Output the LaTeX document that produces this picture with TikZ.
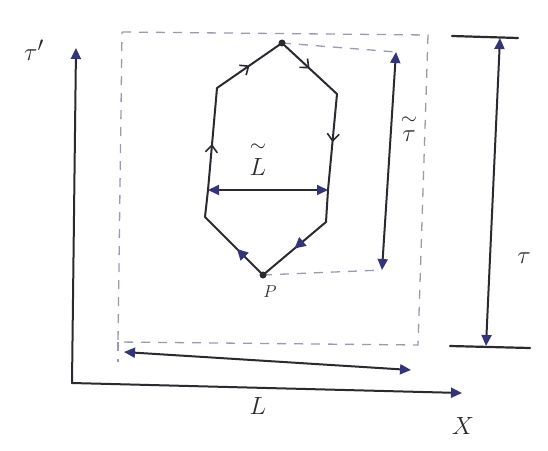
\documentclass[tikz,border=0pt]{standalone}
\usepackage{xcolor}
\usepackage{amsmath}
\definecolor{cInk}{HTML}{2A2A30}
\definecolor{cTip}{HTML}{34347C}
\definecolor{cDash}{HTML}{9A9AB0}
\usetikzlibrary{arrows.meta,decorations.markings}
\tikzset{
  ink/.style={line width=2pt,draw=cInk,line cap=round,line join=round},
  axis-line/.style={ink,-{Triangle[length=11pt,width=10pt,color=cTip]}},
  dim-line/.style={ink,{Triangle[length=11pt,width=10pt,color=cTip]}-{Triangle[length=11pt,width=10pt,color=cTip]}},
  box-dashed/.style={draw=cDash,line width=1.3pt,dash pattern=on 9pt off 8pt},
  bar-line/.style={ink,line width=2.2pt},
  % Pfeil in der Mitte einer Kante: offen (Haken) oder gefuellt
  edge-open/.style={ink,postaction={decorate},decoration={markings,
    mark=at position #1 with {\arrow[line width=1.6pt]{Straight Barb[length=7pt,width=12pt,color=cInk]}}}},
  edge-fill/.style={ink,postaction={decorate},decoration={markings,
    mark=at position #1 with {\arrow{Triangle[length=11pt,width=11pt,color=cTip]}}}},
  lbl/.style={text=cInk,inner sep=0pt,font=\fontsize{32}{34}\selectfont},
  lbl-small/.style={text=cInk,inner sep=0pt,font=\fontsize{18}{20}\selectfont},
  dot/.style={circle,fill=cInk,inner sep=0pt,minimum size=7pt},
}
\newcommand{\tl}[1]{\overset{\raisebox{2pt}{$\scriptstyle\sim$}}{#1}}

\begin{document}
\begin{tikzpicture}[x=1pt,y=-1pt]
  \useasboundingbox (0,0) rectangle (548,450);
  % Achsen
  \coordinate (orig) at (72,383);
  \coordinate (yTop) at (76,48);
  \coordinate (xEnd) at (462,393);
  \draw[axis-line] (orig) -- (yTop);
  \draw[axis-line] (orig) -- (xEnd);
  \node[lbl] (tauPrime) at (34,50) {$\tau'$};
  \node[lbl] (xLbl) at (463,426) {$X$};

  % aeusseres Rechteck
  \coordinate (bTL) at (122,32);
  \coordinate (bTR) at (428,35);
  \coordinate (bBR) at (418,345);
  \coordinate (bBL) at (118,342);
  \coordinate (bBLx) at (118,362);
  \draw[box-dashed] (bTL) -- (bTR) -- (bBR) -- (bBL) -- (bTL);
  \draw[box-dashed] (bBL) -- (bBLx);

  % Laenge L
  \coordinate (lLeft) at (124,352);
  \coordinate (lRight) at (411,370);
  \draw[dim-line] (lLeft) -- (lRight);
  \node[lbl] (lLbl) at (258,406) {$L$};

  % Zeitspanne tau
  \coordinate (barTa) at (452,36);
  \coordinate (barTb) at (518,38);
  \coordinate (barBa) at (450,346);
  \coordinate (barBb) at (530,348);
  \draw[bar-line] (barTa) -- (barTb);
  \draw[bar-line] (barBa) -- (barBb);
  \coordinate (tauTop) at (500,38);
  \coordinate (tauBot) at (486,346);
  \draw[dim-line] (tauBot) -- (tauTop);
  \node[lbl] (tauLbl) at (524,258) {$\tau$};

  % Sechseck
  \coordinate (pT) at (282,43);
  \coordinate (pUR) at (337,94);
  \coordinate (pMR) at (328,190);
  \coordinate (pLR) at (326,222);
  \coordinate (pB) at (263,275);
  \coordinate (pLL) at (205,217);
  \coordinate (pML) at (208,190);
  \coordinate (pUL) at (217,88);

  % inneres Rechteck (Hilfslinien fuer tau~)
  \coordinate (tTop) at (396,52);
  \coordinate (tBot) at (382,270);
  \draw[box-dashed] (pT) -- (tTop);
  \draw[box-dashed] (pB) -- (tBot);
  \draw[dim-line] (tBot) -- (tTop);
  \node[lbl] (tauTilde) at (409,128) {$\tl{\tau}$};

  \draw[edge-fill=0.45] (pB) -- (pLL);
  \draw[ink] (pLL) -- (pML);
  \draw[edge-open=0.45] (pML) -- (pUL);
  \draw[edge-open=0.5] (pUL) -- (pT);
  \draw[edge-open=0.5] (pT) -- (pUR);
  \draw[edge-open=0.5] (pUR) -- (pMR);
  \draw[ink] (pMR) -- (pLR);
  \draw[edge-fill=0.5] (pLR) -- (pB);
  \node[dot] (dotT) at (pT) {};
  \node[dot] (dotB) at (pB) {};
  \node[lbl-small] (pLbl) at (270,292) {$P$};

  % Laenge L~
  \draw[dim-line] (pML) -- (pMR);
  \node[lbl] (lTilde) at (258,158) {$\tl{L}$};
\end{tikzpicture}
\end{document}
